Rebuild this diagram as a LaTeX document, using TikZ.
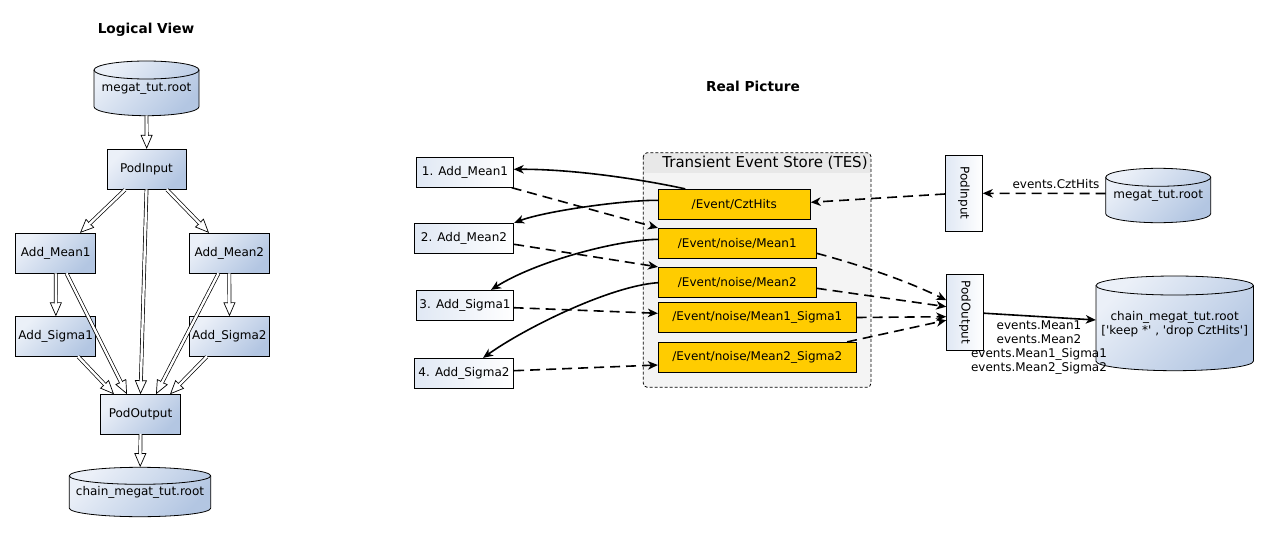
\documentclass[tikz,border=0pt]{standalone}
\usepackage{fontspec}
\usepackage{graphicx}
\setmainfont{DejaVu Sans}[Ligatures=TeXOff]
\usetikzlibrary{arrows.meta,calc}
\definecolor{gl}{HTML}{EBF0F8}
\definecolor{gd}{HTML}{B3C6E2}
\definecolor{al}{HTML}{E0E8F4}
\definecolor{tesbg}{HTML}{F4F4F4}
\definecolor{teshd}{HTML}{E8E8E8}
\definecolor{ybox}{HTML}{FFCC00}
\newcommand\mycyl[5]{%
  \path[draw, line width=0.8pt, top color=gl, bottom color=gd, shading angle=45]
    ({#1-#4},#2) -- ({#1-#4},#3) arc[start angle=180,end angle=360,x radius=#4pt,y radius=#5pt]
    -- ({#1+#4},#2) arc[start angle=0,end angle=180,x radius=#4pt,y radius=#5pt] -- cycle;
  \draw[line width=0.8pt] ({#1-#4},#2) arc[start angle=180,end angle=360,x radius=#4pt,y radius=#5pt];}
\newcommand\lvarr[2]{%
  \draw[lvtip] #1 -- #2;
  \draw[lvouter] #1 -- #2;
  \draw[lvinner] #1 -- #2;}
\begin{document}
\begin{tikzpicture}[x=1pt,y=-1pt, font=\fontsize{12}{14.5}\selectfont,
  title/.style={font=\fontsize{13.7}{16}\selectfont\bfseries, inner sep=0pt},
  lvbox/.style={draw, line width=0.8pt, top color=gl, bottom color=gd, shading angle=45, inner sep=0pt, minimum width=80pt, minimum height=40pt},
  abox/.style={draw, line width=0.8pt, left color=al, right color=white, inner sep=0pt, minimum height=30pt},
  ybx/.style={draw, line width=0.8pt, fill=ybox, inner sep=0pt, minimum height=30pt},
  rbox/.style={draw, line width=0.8pt, top color=white, bottom color=al, shading angle=-90, inner sep=0pt},
  cyltext/.style={inner sep=0pt, align=center},
  lvtip/.style={draw=white, line width=0.5pt, -{Triangle[fill=white, color=black, length=14pt, width=12pt, line width=0.7pt]}},
  lvouter/.style={draw=black, line width=3.8pt, shorten >=13pt},
  lvinner/.style={draw=white, line width=2.4pt, shorten >=12.5pt, shorten <=-0.4pt},
  conn/.style={line width=1.6pt, -{Stealth[length=10pt,width=8.5pt,inset=3pt]}},
  dconn/.style={conn, dash pattern=on 10pt off 6pt},
  lbl/.style={inner sep=0pt, align=center, font=\fontsize{12}{13.9}\selectfont}]
\useasboundingbox (0,0) rectangle (1269,535);
\fill[white] (0,0) rectangle (1269,535);

% ---------------- Logical View ----------------
\node[title] (t1) at (146,30) {Logical View};
\mycyl{146.5}{70}{106.7}{52.5}{9}
\node[cyltext, minimum width=105pt, minimum height=54.7pt] (lin) at (146.5,88.35) {megat\_tut.root};
\node[lvbox, minimum width=79pt] (pinL) at (146.5,169.3) {PodInput};
\node[lvbox] (am1) at (55.7,253.3) {Add\_Mean1};
\node[lvbox] (am2) at (229.3,253.3) {Add\_Mean2};
\node[lvbox, minimum height=39.6pt] (as1) at (55.7,336.5) {Add\_Sigma1};
\node[lvbox, minimum height=39.6pt] (as2) at (229.3,336.5) {Add\_Sigma2};
\node[lvbox, minimum width=79.6pt, minimum height=39.3pt] (poutL) at (140.5,414.3) {PodOutput};
\mycyl{140}{475.8}{508.2}{70.7}{8.5}
\node[cyltext, minimum width=141.4pt, minimum height=49.4pt] (loutc) at (140,492) {chain\_megat\_tut.root};

\lvarr{(lin.south)}{($(pinL.north)+(0.2,0)$)}
\lvarr{($(pinL.south)+(-21.5,0)$)}{($(am1.north)+(24.3,0)$)}
\lvarr{($(pinL.south)+(20.5,0)$)}{($(am2.north)+(-20.3,0)$)}
\lvarr{(pinL.south)}{(poutL.north)}
\lvarr{(am1.south)}{($(as1.north)+(0.2,0)$)}
\lvarr{($(am1.south)+(11,0)$)}{($(poutL.north)+(-13.5,0)$)}
\lvarr{(am2.south)}{($(as2.north)+(0.2,0)$)}
\lvarr{($(am2.south)+(-11,0)$)}{($(poutL.north)+(15.5,0)$)}
\lvarr{($(as1.south)+(22.6,0)$)}{($(poutL.north)+(-26.5,0)$)}
\lvarr{($(as2.south)+(-22.6,0)$)}{($(poutL.north)+(29.5,0)$)}
\lvarr{(poutL.south)}{($(loutc.north)+(0.2,0)$)}

% ---------------- Real Picture ----------------
\node[title] (t2) at (753,86) {Real Picture};

\begin{scope}
  \clip[rounded corners=4pt] (643.3,152.7) rectangle (871,387.3);
  \fill[tesbg] (643.3,152.7) rectangle (871,387.3);
  \fill[teshd] (643.3,152.7) rectangle (871,173.3);
\end{scope}
\draw[line width=0.8pt, dash pattern=on 3pt off 2pt, rounded corners=4pt] (643.3,152.7) rectangle (871,387.3);
\node[inner sep=0pt, font=\fontsize{15}{18}\selectfont] (teslbl) at (765,162.5) {Transient Event Store (TES)};

\node[ybx, minimum width=152pt] (czt) at (734.3,204.3) {/Event/CztHits};
\node[ybx, minimum width=158pt] (m1) at (737.3,243.3) {/Event/noise/Mean1};
\node[ybx, minimum width=158pt] (m2) at (737.3,282.3) {/Event/noise/Mean2};
\node[ybx, minimum width=198pt, minimum height=29.6pt] (ms1) at (757.3,317.5) {/Event/noise/Mean1\_Sigma1};
\node[ybx, minimum width=198pt] (ms2) at (757.3,357.3) {/Event/noise/Mean2\_Sigma2};

\node[abox, minimum width=96.6pt] (b1) at (465,172.3) {1. Add\_Mean1};
\node[abox, minimum width=99.4pt] (b2) at (464,238.3) {2. Add\_Mean2};
\node[abox, minimum width=96.6pt] (b3) at (465,305.3) {3. Add\_Sigma1};
\node[abox, minimum width=99.4pt] (b4) at (464,373.3) {4. Add\_Sigma2};

\node[rbox, minimum width=37pt, minimum height=76pt] (pinR) at (963.8,193) {\rotatebox{-90}{PodInput}};
\node[rbox, minimum width=36.6pt, minimum height=75.7pt] (poutR) at (965,312.2) {\rotatebox{-90}{PodOutput}};

\mycyl{1158.2}{177.3}{213.7}{52.5}{9}
\node[cyltext, minimum width=105pt, minimum height=54.4pt] (rin) at (1158.2,195.5) {megat\_tut.root};
\mycyl{1174.7}{285.5}{361.2}{78.7}{9.5}
\node[cyltext, minimum width=157.4pt, minimum height=94.7pt, font=\fontsize{12}{14}\selectfont] (rout) at (1174.7,324.5) {chain\_megat\_tut.root\\{[}'keep *' , 'drop CztHits']};

% solid arrows
\draw[conn] ($(czt.north)+(-49,0)$) .. controls (645,180) and (575,169) .. ($(b1.east)+(0,-3)$);
\draw[conn] ($(czt.west)+(0,-4)$) .. controls (625,200) and (545,211) .. (b2.north east);
\draw[conn] ($(m1.west)+(0,-4)$) .. controls (615,240) and (535,262) .. ($(b3.north)+(26,0)$);
\draw[conn] ($(m2.west)+(0,0.4)$) .. controls (610,286) and (525,328) .. ($(b4.north)+(19,0)$);

% dashed arrows
\draw[dconn] ($(b1.south east)+(-2,0)$) -- (m1.north west);
\draw[dconn] ($(b2.east)+(0,6)$) -- (m2.north west);
\draw[dconn] ($(b3.east)+(0,2.4)$) -- ($(ms1.west)+(0,-4.2)$);
\draw[dconn] ($(b4.east)+(0,-2.6)$) -- ($(ms2.west)+(0,7.7)$);
\draw[dconn] ($(rin.west)+(0,-2)$) -- ($(pinR.east)+(0,0.3)$);
\draw[dconn] ($(pinR.west)+(0,1)$) -- ($(czt.east)+(0,-2)$);
\draw[dconn] ($(m1.east)+(0,10)$) .. controls (860,265) and (905,280) .. ($(poutR.west)+(0,-12)$);
\draw[dconn] ($(m2.east)+(0,6)$) -- ($(poutR.west)+(0,-5.5)$);
\draw[dconn] (ms1.east) -- ($(poutR.west)+(0,4.5)$);
\draw[dconn] ($(ms2.north east)+(-9.6,0)$) -- ($(poutR.west)+(0,8)$);
\draw[conn] ($(poutR.east)+(0,1)$) -- ($(rout.west)+(0,-4.5)$);

\node[lbl] (lczt) at (1056,184) {events.CztHits};
\node[lbl] (lout) at (1039,347.5) {events.Mean1\\events.Mean2\\events.Mean1\_Sigma1\\events.Mean2\_Sigma2};
\end{tikzpicture}
\end{document}
